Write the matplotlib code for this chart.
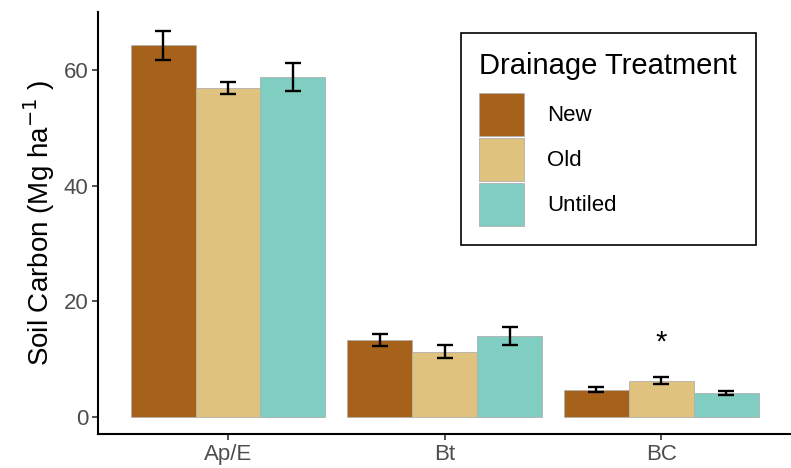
import matplotlib
matplotlib.use("Agg")
import matplotlib.pyplot as plt
import numpy as np

# ── Data ───────────────────────────────────────────────
horizons = ["Ap/E", "Bt", "BC"]
treatments = ["New", "Old", "Untiled"]
means = {
    "New":     [64.3, 13.3, 4.7],
    "Old":     [56.9, 11.3, 6.3],
    "Untiled": [58.8, 14.0, 4.2],
}
errors = {
    "New":     [2.5, 1.0, 0.45],
    "Old":     [1.1, 1.1, 0.6],
    "Untiled": [2.4, 1.6, 0.3],
}
star_horizon = "BC"
star_y = 12.8

colors = {"New": "#A6611A", "Old": "#DFC27D", "Untiled": "#80CDC1"}

plt.rcParams.update({
    "font.family": ["Liberation Sans", "DejaVu Sans"],
})

fig = plt.figure(figsize=(7.91, 4.68), dpi=100)
ax = fig.add_axes([0.124, 0.073, 0.876, 0.901])

x = np.arange(1, len(horizons) + 1)
width = 0.3
for i, t in enumerate(treatments):
    pos = x + (i - 1) * width
    ax.bar(pos, means[t], width, color=colors[t], edgecolor="#B0B0B0",
           linewidth=0.6, label=t, zorder=2)
    ax.errorbar(pos, means[t], yerr=errors[t], fmt="none", ecolor="black",
                elinewidth=1.7, capsize=5.5, capthick=1.7, zorder=3)

ax.text(x[horizons.index(star_horizon)], star_y, "*", ha="center",
        va="center", fontsize=21, color="black")

ax.set_xlim(0.4, 3.6)
ax.set_ylim(-2.9, 70)
ax.set_xticks(x)
ax.set_xticklabels(horizons)
ax.set_yticks([0, 20, 40, 60])
ax.tick_params(axis="both", labelsize=16, labelcolor="#4D4D4D",
               length=4, width=1.2, color="#333333", pad=3)
ax.set_ylabel("Soil Carbon (Mg ha$^{-1}$ )", fontsize=20, labelpad=5)
for s in ["top", "right"]:
    ax.spines[s].set_visible(False)
for s in ["left", "bottom"]:
    ax.spines[s].set_linewidth(1.5)

leg = ax.legend(title="Drainage Treatment", fontsize=16, title_fontsize=21,
                loc="upper right", bbox_to_anchor=(0.9495, 0.95),
                borderaxespad=0, handlelength=2.0, handleheight=2.6,
                labelspacing=0.1, handletextpad=1.05, borderpad=0.85,
                fancybox=False, edgecolor="black", framealpha=1)
leg.get_frame().set_linewidth(1.2)
leg._legend_box.align = "left"
leg._legend_box.sep = 9  # gap between title and keys

fig.savefig("out.png", dpi=100)
